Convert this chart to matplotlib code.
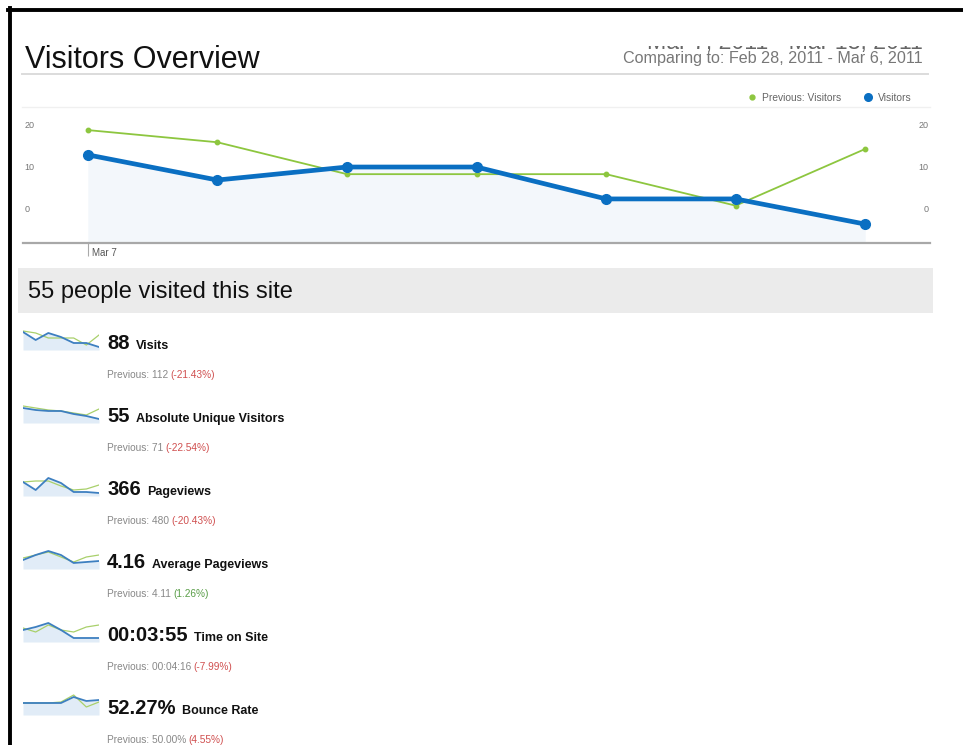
import matplotlib
matplotlib.use('Agg')
import matplotlib.pyplot as plt
from matplotlib.lines import Line2D
from matplotlib.patches import Rectangle
from matplotlib.transforms import blended_transform_factory

plt.rcParams['font.family'] = ['Liberation Sans', 'DejaVu Sans']

W, H = 963, 745

# main chart data
dates = ['Mar 7', 'Mar 8', 'Mar 9', 'Mar 10', 'Mar 11', 'Mar 12', 'Mar 13']
visitors = [12.9, 6.9, 10.0, 10.0, 2.4, 2.4, -3.6]
prev_visitors = [18.8, 15.9, 8.3, 8.3, 8.3, 0.8, 14.3]
yticks = [0, 10, 20]

# metric rows
metric_values = ['88', '55', '366', '4.16', '00:03:55', '52.27%']
metric_names = ['Visits', 'Absolute Unique Visitors', 'Pageviews',
                'Average Pageviews', 'Time on Site', 'Bounce Rate']
metric_prev = ['112', '71', '480', '4.11', '00:04:16', '50.00%']
metric_change = ['-21.43%', '-22.54%', '-20.43%', '1.26%', '-7.99%', '4.55%']
change_good = [False, False, False, True, False, False]

# sparklines (current / previous)
spark_cur = [[18, 10, 17, 13, 7, 7, 3],
             [15, 13, 12, 12, 9, 7, 4],
             [14, 6, 18, 13, 4, 4, 3],
             [9, 14, 18, 14, 6, 7, 8],
             [12, 15, 19, 12, 4, 4, 4],
             [12, 12, 12, 12, 18, 14, 15]]
spark_prev = [[19, 17, 12, 12, 12, 5, 15],
              [17, 15, 13, 12, 10, 8, 14],
              [14, 15, 15, 10, 6, 7, 11],
              [11, 14, 17, 12, 7, 12, 14],
              [14, 10, 17, 12, 10, 15, 17],
              [12, 12, 12, 13, 20, 8, 13]]

BLUE = '#0a6fc2'
GREEN = '#8dc63f'


def fx(x):
    return x / W


def fy(y):
    return 1 - y / H


fig = plt.figure(figsize=(W / 100, H / 100), dpi=100)
fig.patch.set_facecolor('white')
r = fig.canvas.get_renderer()


def right_edge(t):
    return t.get_window_extent(r).x1 / fig.bbox.width


# frame
fig.add_artist(Line2D([fx(8), 1], [fy(10), fy(10)], color='black', lw=2.8, zorder=20))
fig.add_artist(Line2D([fx(9.5), fx(9.5)], [fy(8), 0], color='black', lw=2.8, zorder=20))

# header
fig.text(fx(25), fy(68), 'Visitors Overview', fontsize=22, color='#111', va='baseline')
fig.add_artist(Line2D([fx(22), fx(928)], [fy(73.5)] * 2, color='#dcdcdc', lw=1.4))
fig.text(fx(923), fy(63), 'Comparing to: Feb 28, 2011 - Mar 6, 2011', ha='right',
         va='baseline', fontsize=11.6, color='#777')
# date range line cut off at the top of the page, only its bottom edge shows
fig.text(fx(923), fy(49.5), 'Mar 7, 2011 - Mar 13, 2011', ha='right',
         va='baseline', fontsize=16.7, color='#666', zorder=3)
fig.add_artist(Rectangle((fx(600), fy(46)), fx(935) - fx(600), fy(12) - fy(46),
                         transform=fig.transFigure, facecolor='white', edgecolor='none', zorder=5))
fig.add_artist(Line2D([fx(22), fx(930)], [fy(107)] * 2, color='#f0f0f0', lw=1))

# main chart
ax = fig.add_axes([fx(23), fy(243), fx(930) - fx(23), fy(107) - fy(243)])
ax.set_facecolor('none')
x = list(range(len(dates)))
ax.set_xlim(-0.5, 6.5)
ax.set_ylim(-8.1, 24.3)
ax.fill_between(x, visitors, -8.1, color='#f3f7fb', lw=0)
ax.plot(x, prev_visitors, color=GREEN, lw=1.3, marker='o', ms=3.2, zorder=3)
ax.plot(x, visitors, color=BLUE, lw=3.4, marker='o', ms=7, zorder=4)
for s in ['top', 'left', 'right']:
    ax.spines[s].set_visible(False)
ax.spines['bottom'].set_color('#a8a8a8')
ax.spines['bottom'].set_linewidth(1.6)
ax.set_xticks([x[0]])
ax.set_xticklabels([])
ax.tick_params(axis='x', length=9, color='#aaa', width=0.8)
ax.set_yticks([])
ax.annotate(dates[0], xy=(x[0], 0), xycoords=('data', 'axes fraction'),
            xytext=(3, -3.5), textcoords='offset points', ha='left', va='top',
            fontsize=7, color='#555')
tr = blended_transform_factory(ax.transAxes, ax.transData)
for v in yticks:
    ax.text(0.002, v, str(v), transform=tr, ha='left', va='center', fontsize=6.5, color='#777')
    ax.text(0.998, v, str(v), transform=tr, ha='right', va='center', fontsize=6.5, color='#777')

handles = [Line2D([], [], ls='none', marker='o', ms=3.5, color=GREEN, label='Previous: Visitors'),
           Line2D([], [], ls='none', marker='o', ms=5.5, color=BLUE, label='Visitors')]
fig.legend(handles=handles, loc='center right', bbox_to_anchor=(fx(912), fy(98)), ncol=2,
           frameon=False, fontsize=7.4, handlelength=0.8, handletextpad=0.6,
           columnspacing=2.2, borderpad=0, borderaxespad=0, labelcolor='#666')

# summary band
fig.add_artist(Rectangle((fx(18), fy(313)), fx(933) - fx(18), fy(268) - fy(313),
                         transform=fig.transFigure, color='#ebebeb', lw=0, zorder=0))
fig.text(fx(28), fy(298), '55 people visited this site', fontsize=17, va='baseline', color='#111')

# metric rows
for i in range(len(metric_values)):
    yc = 342 + 73 * i
    sax = fig.add_axes([fx(23), fy(yc + 8), fx(99) - fx(23), fy(yc - 14) - fy(yc + 8)])
    xs = range(len(spark_cur[i]))
    sax.fill_between(xs, spark_cur[i], 0, color='#e1ecf7', lw=0)
    sax.plot(xs, spark_prev[i], color='#a9d06b', lw=0.9)
    sax.plot(xs, spark_cur[i], color='#3d7fc0', lw=1.3)
    sax.set_xlim(0, len(spark_cur[i]) - 1)
    sax.set_ylim(0, 22)
    sax.axis('off')

    t = fig.text(fx(107), fy(yc + 7), metric_values[i], fontsize=14.5, fontweight='bold',
                 va='baseline', color='#111')
    fig.text(right_edge(t) + fx(6), fy(yc + 7), metric_names[i], fontsize=9,
             fontweight='bold', va='baseline', color='#111')
    p = fig.text(fx(107), fy(yc + 36), 'Previous: ' + metric_prev[i], fontsize=7.3,
                 color='#888', va='baseline')
    fig.text(right_edge(p) + fx(2.5), fy(yc + 36), '(' + metric_change[i] + ')', fontsize=7.3,
             color='#5a9e48' if change_good[i] else '#d05050', va='baseline')

fig.savefig('out.png', dpi=100)
